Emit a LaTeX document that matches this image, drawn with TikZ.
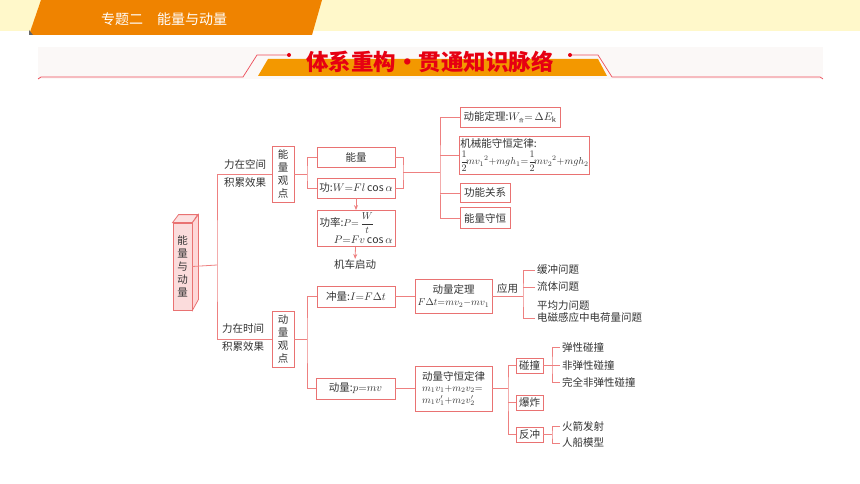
\documentclass[tikz,border=0pt]{standalone}
\usepackage{amsmath}
\usepackage{fontspec}
\setmainfont{Noto Sans CJK SC}
\usetikzlibrary{positioning,arrows.meta}
\definecolor{linered}{HTML}{EE8080}
\definecolor{boxred}{HTML}{E97272}
\definecolor{rootfill}{HTML}{FBDCDC}
\definecolor{headyellow}{HTML}{FFF8CA}
\definecolor{headorange}{HTML}{EF8300}
\definecolor{bandgray}{HTML}{FBF8F7}
\definecolor{titlered}{HTML}{E60012}
\definecolor{titleorange}{HTML}{F39800}
\definecolor{ink}{HTML}{333333}
\tikzset{
  box/.style={draw=boxred, fill=white, line width=0.8pt, inner sep=1.5pt,
    font=\fontsize{10.5}{13}\selectfont, text=ink},
  vbox/.style={box, align=center, minimum width=22, minimum height=56},
  leaf/.style={inner sep=2pt, anchor=west, font=\fontsize{10.5}{13}\selectfont, text=ink},
  lbl/.style={inner sep=0pt, font=\fontsize{10.5}{13}\selectfont, text=ink},
  link/.style={draw=linered, line width=0.8pt},
  arr/.style={link, -{Stealth[length=5pt,width=4pt]}},
}
\newcommand{\fml}{\fontsize{10}{12}\selectfont}

\begin{document}
\begin{tikzpicture}[x=1pt, y=-1pt]
	\useasboundingbox[fill=white] (0,0) rectangle (860,484);
	% Header
	\fill[headyellow] (0,0) rectangle (860,31);
	\fill[headorange] (41,0) -- (322,0) -- (312,35) -- (29,35) -- cycle;
	\fill[black!60] (29,30) -- (33,35) -- (29,35) -- cycle;
	\node[text=white, font=\fontsize{14}{14}\selectfont] (head) at (164,19) {专题二\quad 能量与动量};
	% Title band
	\fill[bandgray] (38,47) rectangle (823,79);
	\fill[titleorange] (268,59) -- (598,59) -- (607,76) -- (258,76) -- cycle;
	\draw[titlered!70, line width=0.7pt] (38,79) -- (41,77) -- (243,77) -- (257,55) -- (289,55);
	\draw[titlered!70, line width=0.7pt] (570,55) -- (598,55) -- (612,77) -- (820,77) -- (823,79);
	\fill[titlered] (289,55) circle (2);
	\fill[titlered] (570,55) circle (2);
	\node[text=titlered, font=\bfseries\fontsize{22.5}{22.5}\selectfont] (title) at (430,62) {体系重构・贯通知识脉络};

	% Define nodes
	\node[box, fill=rootfill, align=center, minimum width=19, minimum height=87] (root) at (182.5,266.5) {能\\量\\与\\动\\量};
	\node[vbox] (viewE) at (283,174) {能\\量\\观\\点};
	\node[vbox] (viewP) at (283,339) {动\\量\\观\\点};
	\node[lbl] (space1) at (245,165) {力在空间};
	\node[lbl] (space2) at (245,183) {积累效果};
	\node[lbl] (time1) at (243,329) {力在时间};
	\node[lbl] (time2) at (243,347) {积累效果};
	% energy side
	\node[box, minimum width=78, minimum height=20] (energy) at (356,157) {能量};
	\node[box, minimum width=78, minimum height=20] (work) at (356,188) {功:$W{=}Fl\cos\alpha$};
	\node[box, minimum width=78, minimum height=36, text width=73, align=left, inner ysep=0.5pt] (power) at (356,228.5)
		{功率:{\fml$P{=}\,\dfrac{W}{t}$}\\[2pt]\hspace*{\fill}$P{=}Fv\cos\alpha$};
	\node[lbl] (loco) at (355,264) {机车启动};
	\node[box, minimum width=100, minimum height=20] (kinetic) at (510,117) {动能定理:$W_{\text{\tiny 合}}{=}\,\Delta E_{\mathrm k}$};
	\node[box, minimum width=129, minimum height=38, align=left, inner ysep=0.5pt, inner xsep=1pt] (mech) at (524.5,155)
		{机械能守恒定律:\\[2pt]{\fml$\dfrac12\!mv_1{}^2{+}mgh_1{=}\dfrac12\!mv_2{}^2{+}mgh_2$}};
	\node[box, minimum width=50, minimum height=19] (funrel) at (485,193) {功能关系};
	\node[box, minimum width=50, minimum height=21] (encons) at (485,218) {能量守恒};
	% momentum side
	\node[box, minimum width=78, minimum height=21] (impulse) at (356,296.5) {冲量:$I{=}F\Delta t$};
	\node[box, minimum width=79, minimum height=21] (momentum) at (355.5,388.5) {动量:$p{=}mv$};
	\node[box, minimum width=77, minimum height=34, align=center, inner ysep=0.5pt] (thmP) at (453.5,296)
		{动量定理\\[-1pt]{\fml$F\Delta t{=}mv_2{-}mv_1$}};
	\node[box, minimum width=77, minimum height=45, align=left, inner ysep=0.5pt] (consP) at (453.5,388.5)
		{动量守恒定律\\[-2pt]{\fml$m_1v_1{+}m_2v_2{=}$}\\[-1pt]{\fml$m_1v_1'{+}m_2v_2'$}};
	\node[box, minimum width=27, minimum height=15, inner sep=1pt] (collide) at (529.5,365.5) {碰撞};
	\node[box, minimum width=27, minimum height=15, inner sep=1pt] (explode) at (529.5,402.5) {爆炸};
	\node[box, minimum width=27, minimum height=15, inner sep=1pt] (recoil) at (529.5,434.5) {反冲};
	\node[leaf] (buffer) at (535,270) {缓冲问题};
	\node[leaf] (fluid) at (535,287) {流体问题};
	\node[leaf] (avg) at (535,306) {平均力问题};
	\node[leaf] (emi) at (535,318) {电磁感应中电荷量问题};
	\node[leaf] (elastic) at (560,347) {弹性碰撞};
	\node[leaf] (inelastic) at (560,365) {非弹性碰撞};
	\node[leaf] (perfect) at (560,382) {完全非弹性碰撞};
	\node[leaf] (rocket) at (560,426) {火箭发射};
	\node[leaf] (boat) at (560,443) {人船模型};
	% junctions
	\coordinate (jL) at (217,265);
	\coordinate (jE) at (307,174);
	\coordinate (jP) at (307,339);
	\coordinate (jW) at (403,172);
	\coordinate (jR) at (440,172);
	\coordinate (jApp) at (523,296);
	\coordinate (jM) at (508,388.5);
	\coordinate (jC) at (552,365.5);
	\coordinate (jK) at (552,434.5);

	% 3D faces of root box
	\draw[draw=boxred, fill=rootfill!85, line width=0.8pt] (root.north west) -- ++(6,-8) -- ++(19,0) -- (root.north east) -- cycle;
	\draw[draw=boxred, fill=rootfill!70!red!40, line width=0.8pt] (root.north east) -- ++(6,-8) -- ++(0,85) -- (root.south east) -- cycle;

	% Connect the nodes
	\draw[link] (root.east) -- (jL);
	\draw[link] (viewE.west) -| (jL) |- (viewP.west);
	\draw[link] (viewE.east) -- (jE);
	\draw[link] (energy.west) -| (jE) |- (work.west);
	\draw[link] (energy.east) -| (jW) |- (work.east);
	\draw[link] (jW) -- (jR);
	\draw[link] (kinetic.west) -| (jR) |- (encons.west);
	\draw[link] (mech.west) -- (mech.west -| jR);
	\draw[link] (funrel.west) -- (funrel.west -| jR);
	\draw[arr] (work) -- (power);
	\draw[arr] (power) -- (loco);
	\draw[link] (viewP.east) -- (jP);
	\draw[link] (impulse.west) -| (jP) |- (momentum.west);
	\draw[link] (impulse.east) -- (thmP.west |- impulse.east);
	\draw[link] (thmP.east) -- (jApp) node[midway, above, lbl, yshift=2pt] (use) {应用};
	\draw[link] (buffer.west) -| (jApp) |- (emi.west);
	\draw[link] (fluid.west) -- (fluid.west -| jApp);
	\draw[link] (momentum.east) -- (consP.west |- momentum.east);
	\draw[link] (consP.east) -- (jM);
	\draw[link] (collide.west) -| (jM) |- (recoil.west);
	\draw[link] (explode.west) -- (explode.west -| jM);
	\draw[link] (collide.east) -- (jC);
	\draw[link] (elastic.west) -| (jC) |- (perfect.west);
	\draw[link] (inelastic.west) -- (inelastic.west -| jC);
	\draw[link] (recoil.east) -- (jK);
	\draw[link] (rocket.west) -| (jK) |- (boat.west);
\end{tikzpicture}
\end{document}
